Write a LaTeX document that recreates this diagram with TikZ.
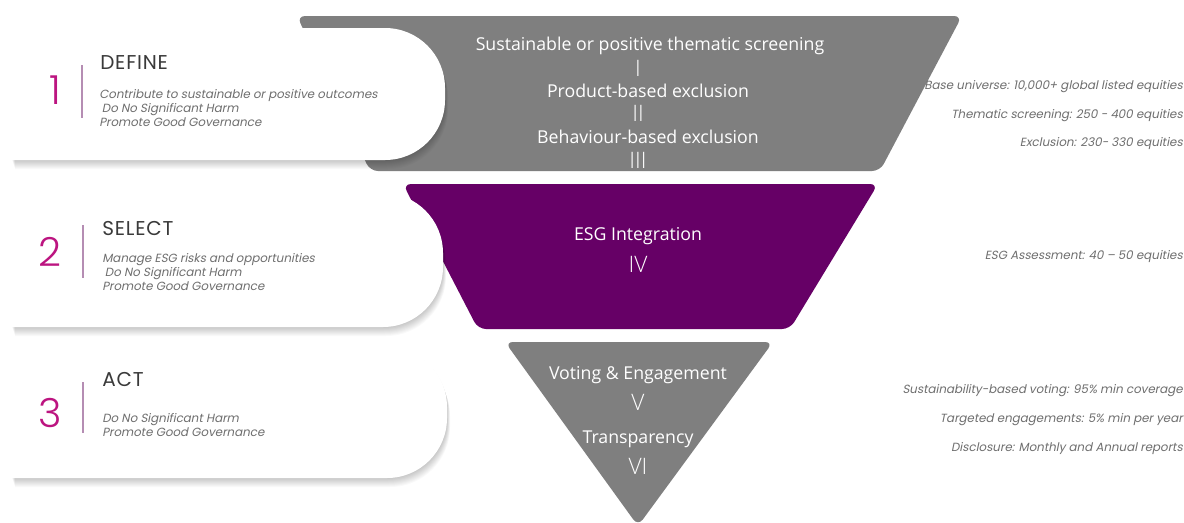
\documentclass[tikz,border=0pt]{standalone}
\usepackage{fontspec}
\setmainfont{Poppins}[AutoFakeSlant=0.2]
\newfontfamily\funnelfont{Open Sans}
\newfontfamily\numfont{Poppins Light}
\newfontfamily\romanfont{Open Sans Light}
\usetikzlibrary{calc}
\definecolor{fnGrey}{HTML}{7F7F7F}
\definecolor{fnPurple}{HTML}{660066}
\definecolor{fnMagenta}{HTML}{BC1480}
\definecolor{fnRule}{HTML}{B58DB3}
\definecolor{fnHead}{HTML}{3A3A3A}
\definecolor{fnNote}{HTML}{6F6F6F}
\newcommand{\cardshape}[3]{(12,#1) -- (#3-60,#1) arc[start angle=90, end angle=0, radius=45pt]
  -- (#3,#2-60) arc[start angle=0, end angle=-90, radius=45pt] -- (12,#2) -- cycle}

\begin{document}
\begin{tikzpicture}[x=0.75pt, y=-0.75pt,
  shade layer/.style={fill=black, opacity=0.022},
  stage/.style={rounded corners=6pt},
  rule/.style={draw=fnRule, line width=0.8pt},
  num/.style={text=fnMagenta, font=\numfont\fontsize{30}{30}\selectfont, inner sep=0pt},
  head/.style={anchor=west, text=fnHead,
    font=\fontsize{15}{16}\selectfont\addfontfeature{LetterSpace=4}, inner sep=0pt},
  body/.style={anchor=north west, align=left, text=fnNote,
    font=\fontsize{8.9}{10.5}\selectfont\itshape, inner sep=0pt},
  ftext/.style={text=white, font=\funnelfont\fontsize{13.3}{15}\selectfont, inner sep=0pt},
  roman/.style={text=white, font=\romanfont\fontsize{17}{17}\selectfont, inner sep=0pt},
  note/.style={anchor=east, text=fnNote, font=\fontsize{8.9}{10}\selectfont\itshape, inner sep=0pt}
]
  \fill[white] (0,0) rectangle (1184,522);
  \useasboundingbox (0,0) rectangle (1184,522);

  % funnel
  \fill[stage, fnGrey] (297,16) -- (962,16) -- (880,171) -- (370,171) -- cycle;
  \fill[stage, fnPurple] (403,184) -- (878,184) -- (790,329) -- (478,329) -- cycle;
  \fill[stage, fnGrey] (505,342) -- (773,342) -- (638,526) -- cycle;

  % cards with soft shadow
  \foreach \ytop/\ybot/\xr in {28/160/445, 193/327/443, 347/478/447} {
    \foreach \s in {1,...,9}
      \fill[shade layer, shift={(\s/3,\s)}] \cardshape{\ytop}{\ybot}{\xr};
    \fill[white] \cardshape{\ytop}{\ybot}{\xr};
  }

  \node[num] (num1) at (55,90) {1};
  \draw[rule] (82,65) -- (82,118);
  \node[head] (define) at (100,63) {DEFINE};
  \node[body] (define body) at (99,89) {Contribute to sustainable or positive outcomes\\
    \hspace{2pt}Do No Significant Harm\\Promote Good Governance};

  \node[num] (num2) at (50,252) {2};
  \draw[rule] (83,225) -- (83,278);
  \node[head] (select) at (102,229) {SELECT};
  \node[body] (select body) at (102,253) {Manage ESG risks and opportunities\\
    \hspace{2pt}Do No Significant Harm\\Promote Good Governance};

  \node[num] (num3) at (50,413) {3};
  \draw[rule] (83,382) -- (83,433);
  \node[head] (act) at (102,379) {ACT};
  \node[body] (act body) at (102,413) {Do No Significant Harm\\Promote Good Governance};

  % stage labels
  \node[ftext] (screening) at (650,46) {Sustainable or positive thematic screening};
  \node[roman] (r1) at (638,68) {I};
  \node[ftext] (product) at (648,91) {Product-based exclusion};
  \node[roman] (r2) at (638,113) {II};
  \node[ftext] (behaviour) at (648,137) {Behaviour-based exclusion};
  \node[roman] (r3) at (638,160) {III};
  \node[ftext] (integration) at (638,236) {ESG Integration};
  \node[roman] (r4) at (638,264) {IV};
  \node[ftext] (voting) at (638,375) {Voting \& Engagement};
  \node[roman] (r5) at (638,402) {V};
  \node[ftext] (transparency) at (638,439) {Transparency};
  \node[roman] (r6) at (638,466) {VI};

  % right notes
  \node[note] (universe) at (1183,87) {Base universe: 10,000+ global listed equities};
  \node[note] (thematic) at (1183,116) {Thematic screening: 250 - 400 equities};
  \node[note] (exclusion) at (1183,144) {Exclusion: 230- 330 equities};
  \node[note] (assessment) at (1183,257) {ESG Assessment: 40 – 50 equities};
  \node[note] (coverage) at (1183,391) {Sustainability-based voting: 95\% min coverage};
  \node[note] (engagements) at (1183,420) {Targeted engagements: 5\% min per year};
  \node[note] (disclosure) at (1183,449) {Disclosure: Monthly and Annual reports};
\end{tikzpicture}
\end{document}
